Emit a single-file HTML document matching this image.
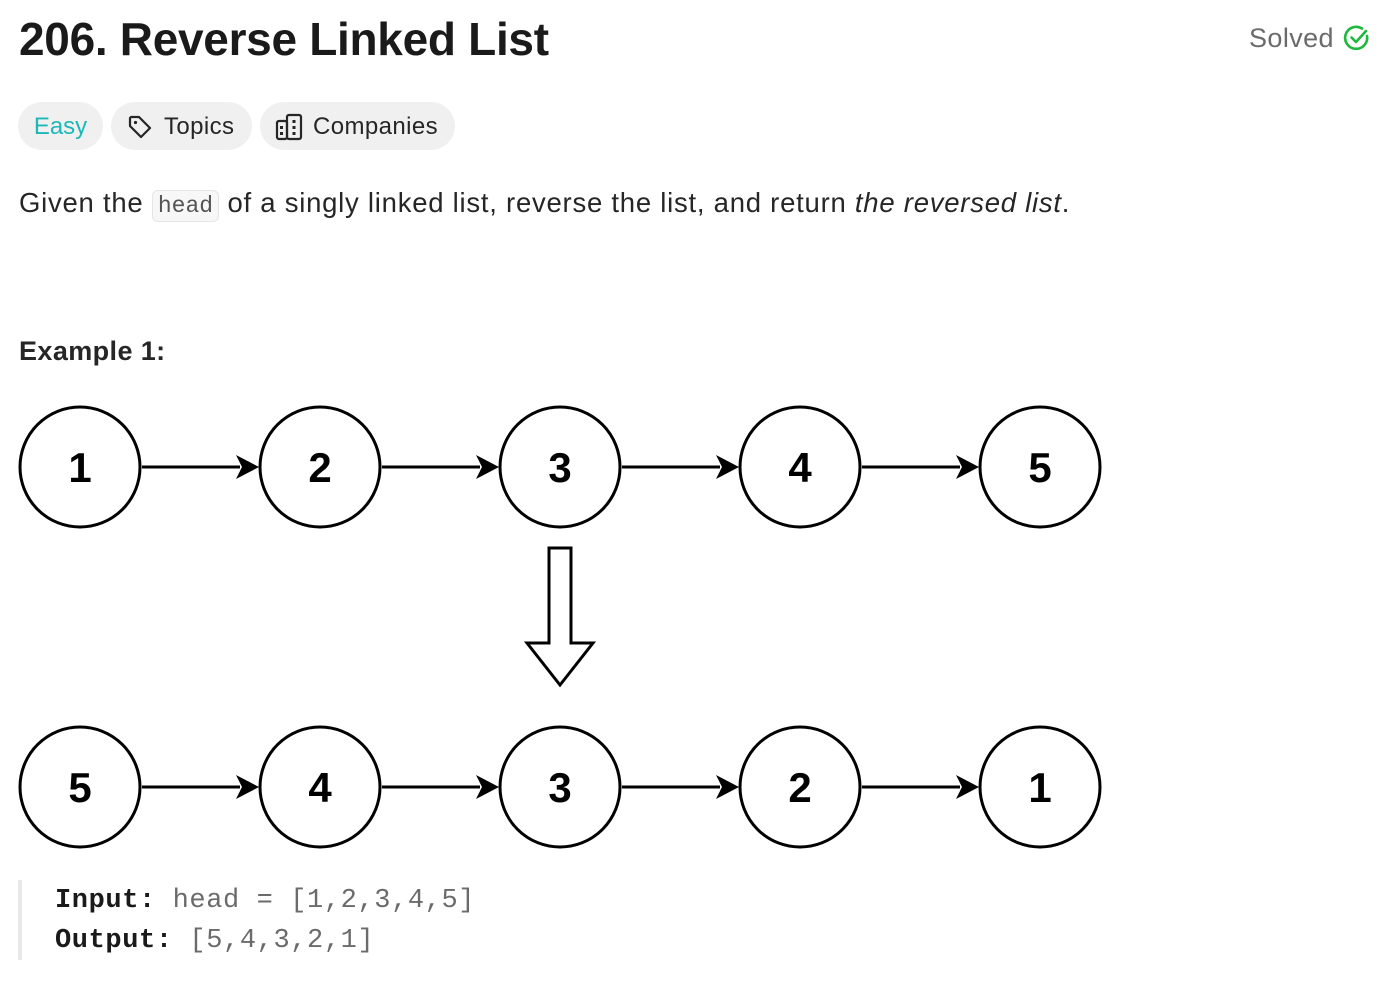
<!DOCTYPE html>
<html><head><meta charset="utf-8"><style>
body{margin:0;width:1384px;height:984px;background:#fff;font-family:"Liberation Sans",sans-serif;color:#1a1a1a;position:relative;overflow:hidden}
.a{position:absolute}
h1{position:absolute;left:19px;top:12px;margin:0;font-size:46px;font-weight:bold;letter-spacing:-0.3px;color:#1a1a1a}
.pill{position:absolute;top:102px;height:48px;border-radius:24px;background:#f0f0f0;font-size:24px;line-height:50px;color:#262626}
code{font-family:"Liberation Mono",monospace}
</style></head><body>
<h1>206. Reverse Linked List</h1>
<div class="a" style="left:1249px;top:23px;font-size:27px;color:#6b6b6b;letter-spacing:0.4px">Solved</div>
<svg class="a" style="left:1343px;top:24px" width="28" height="28" viewBox="0 0 28 28"><path d="M24 12 A11 11 0 1 1 19 4.5" fill="none" stroke="#1db83c" stroke-width="2.6" stroke-linecap="round"/><path d="M8.5 13.5 L13 18 L23 7" fill="none" stroke="#1db83c" stroke-width="2.6" stroke-linecap="round" stroke-linejoin="round"/></svg>
<div class="pill" style="left:18px;width:85px;color:#1cb8b8;text-align:center">Easy</div>
<div class="pill" style="left:111px;width:141px"><svg class="a" style="left:16px;top:12px" width="26" height="26" viewBox="0 0 26 26"><path d="M3 4 V12 L14 23 L23 14 L12 3 H4 Z" fill="none" stroke="#262626" stroke-width="2.2" stroke-linejoin="round"/><circle cx="8.5" cy="8.5" r="1.6" fill="#262626"/></svg><span class="a" style="left:53px;letter-spacing:0.4px">Topics</span></div>
<div class="pill" style="left:260px;width:195px"><svg class="a" style="left:15px;top:11px" width="30" height="28" viewBox="0 0 30 28"><rect x="2" y="8" width="10" height="18" rx="2" fill="none" stroke="#262626" stroke-width="2.2"/><rect x="12" y="2" width="14" height="24" rx="2" fill="none" stroke="#262626" stroke-width="2.2"/><g fill="#262626"><rect x="5" y="13" width="3" height="3"/><rect x="5" y="19" width="3" height="3"/><rect x="17.5" y="7" width="3" height="3"/><rect x="17.5" y="13" width="3" height="3"/><rect x="17.5" y="19" width="3" height="3"/></g></svg><span class="a" style="left:53px;letter-spacing:0.4px">Companies</span></div>
<div class="a" style="left:19px;top:187px;font-size:27.5px;color:#262626;white-space:nowrap;letter-spacing:0.75px">Given the <code style="font-size:23px;letter-spacing:0;background:#f7f7f7;border:1px solid #e5e5e5;border-radius:6px;padding:2px 5px;color:#555">head</code> of a singly linked list, reverse the list, and return <i>the reversed list</i>.</div>
<div class="a" style="left:19px;top:336px;font-size:27px;font-weight:bold;color:#262626;letter-spacing:0.4px">Example 1:</div>
<svg class="a" style="left:0;top:390px" width="1120" height="470" viewBox="0 390 1120 470">
<g fill="none" stroke="#000" stroke-width="3">
<circle cx="80" cy="467" r="60"/><circle cx="320" cy="467" r="60"/><circle cx="560" cy="467" r="60"/><circle cx="800" cy="467" r="60"/><circle cx="1040" cy="467" r="60"/>
<circle cx="80" cy="787" r="60"/><circle cx="320" cy="787" r="60"/><circle cx="560" cy="787" r="60"/><circle cx="800" cy="787" r="60"/><circle cx="1040" cy="787" r="60"/>
</g>
<g stroke="#000" stroke-width="3">
<path d="M142 467 H240"/><path d="M382 467 H480"/><path d="M622 467 H720"/><path d="M862 467 H960"/>
<path d="M142 787 H240"/><path d="M382 787 H480"/><path d="M622 787 H720"/><path d="M862 787 H960"/>
</g>
<g fill="#000">
<path d="M236 455 L259 467 L236 479 L242 467Z"/><path d="M476 455 L499 467 L476 479 L482 467Z"/><path d="M716 455 L739 467 L716 479 L722 467Z"/><path d="M956 455 L979 467 L956 479 L962 467Z"/>
<path d="M236 775 L259 787 L236 799 L242 787Z"/><path d="M476 775 L499 787 L476 799 L482 787Z"/><path d="M716 775 L739 787 L716 799 L722 787Z"/><path d="M956 775 L979 787 L956 799 L962 787Z"/>
</g>
<path d="M549 548 H571 V643 H593 L560 685 L527 643 H549 Z" fill="#fff" stroke="#000" stroke-width="3" stroke-linejoin="miter"/>
<g font-family="Liberation Sans" font-size="42" font-weight="bold" text-anchor="middle" fill="#000">
<text x="80" y="482">1</text><text x="320" y="482">2</text><text x="560" y="482">3</text><text x="800" y="482">4</text><text x="1040" y="482">5</text>
<text x="80" y="802">5</text><text x="320" y="802">4</text><text x="560" y="802">3</text><text x="800" y="802">2</text><text x="1040" y="802">1</text>
</g>
</svg>
<div class="a" style="left:18px;top:880px;width:4px;height:80px;background:#e8e8e8"></div>
<div class="a" style="left:55px;top:881px;font-family:'Liberation Mono',monospace;font-size:27px;line-height:40px;color:#6b6b6b;white-space:pre;letter-spacing:0.6px"><b style="color:#1a1a1a">Input:</b> head = [1,2,3,4,5]
<b style="color:#1a1a1a">Output:</b> [5,4,3,2,1]</div>
</body></html>
